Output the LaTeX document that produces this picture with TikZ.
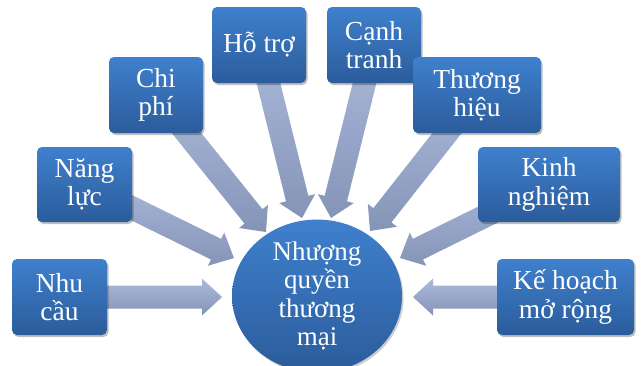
\documentclass[tikz,border=0pt]{standalone}
\usepackage{fontspec}
\setmainfont{Liberation Serif}
\usetikzlibrary{calc,shadows,shapes.geometric}
\definecolor{boxtop}{HTML}{3F80CD}
\definecolor{boxbot}{HTML}{2B5C9B}
\definecolor{arrlight}{HTML}{ACBADB}
\definecolor{arrdark}{HTML}{8494B7}
\tikzset{
  boxnode/.style={rectangle, rounded corners=5pt, top color=boxtop, bottom color=boxbot,
    draw=none, text=white, align=center, inner sep=2pt,
    font=\fontsize{27.5}{28.5}\selectfont,
    drop shadow={shadow xshift=1.5pt, shadow yshift=-2pt, fill=black, opacity=0.25}},
  hubnode/.style={ellipse, top color=boxtop, bottom color=boxbot, draw=none,
    text=white, align=center, inner sep=0pt,
    font=\fontsize{27}{28.3}\selectfont,
    drop shadow={shadow xshift=1.5pt, shadow yshift=-2pt, fill=black, opacity=0.2}},
  arrfill/.style={top color=arrlight, bottom color=arrdark, draw=none}
}
\newcommand{\blockarrow}[2]{%
  \coordinate (hb) at ($(#2)!20pt!(#1.center)$);
  \shade[arrfill] ($(#1.center)!11.5pt!90:(#2)$) -- ($(hb)!11.5pt!90:(#2)$)
    -- ($(hb)!18.5pt!90:(#2)$) -- (#2) -- ($(hb)!18.5pt!-90:(#2)$)
    -- ($(hb)!11.5pt!-90:(#2)$) -- ($(#1.center)!11.5pt!-90:(#2)$) -- cycle;%
}
\begin{document}
\begin{tikzpicture}[x=1pt,y=-1pt]
\useasboundingbox (0,0) rectangle (642,365);
\fill[white] (0,0) rectangle (642,365);
% box centres
\coordinate (nhu) at (59.5,297);
\coordinate (nang) at (84.5,184.5);
\coordinate (chi) at (156,95);
\coordinate (ho) at (259,45);
\coordinate (canh) at (374,45);
\coordinate (thuong) at (477,95);
\coordinate (kinh) at (549,184.5);
\coordinate (ke) at (565.5,297);
% arrow tips
\coordinate (tnhu) at (222,297);
\coordinate (tnang) at (234,258);
\coordinate (tchi) at (266,232);
\coordinate (tho) at (302,218);
\coordinate (tcanh) at (331,218);
\coordinate (tthuong) at (370,231);
\coordinate (tkinh) at (400,258);
\coordinate (tke) at (413,297);
\blockarrow{nhu}{tnhu}
\blockarrow{nang}{tnang}
\blockarrow{chi}{tchi}
\blockarrow{ho}{tho}
\blockarrow{canh}{tcanh}
\blockarrow{thuong}{tthuong}
\blockarrow{kinh}{tkinh}
\blockarrow{ke}{tke}
% boxes
\node[boxnode, minimum width=95pt, minimum height=76pt] (bnhu) at (nhu) {Nhu\\cầu};
\node[boxnode, minimum width=95pt, minimum height=75pt] (bnang) at (nang) {Năng\\lực};
\node[boxnode, minimum width=94pt, minimum height=76pt] (bchi) at (chi) {Chi\\phí};
\node[boxnode, minimum width=94pt, minimum height=76pt] (bho) at (ho) {Hỗ trợ};
\node[boxnode, minimum width=94pt, minimum height=76pt] (bcanh) at (canh) {Cạnh\\tranh};
\node[boxnode, minimum width=128pt, minimum height=76pt] (bthuong) at (thuong) {Thương\\hiệu};
\node[boxnode, minimum width=142pt, minimum height=75pt] (bkinh) at (kinh) {Kinh\\nghiệm};
\node[boxnode, minimum width=137pt, minimum height=76pt] (bke) at (ke) {Kế hoạch\\mở rộng};
\node[hubnode, minimum width=170pt, minimum height=134pt] (hub) at (317,296) {Nhượng\\quyền\\thương\\mại};
\end{tikzpicture}
\end{document}
